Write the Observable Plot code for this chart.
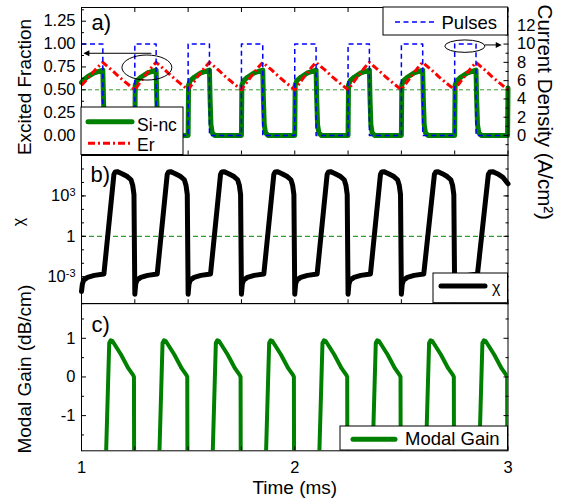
<!DOCTYPE html>
<html><head><meta charset="utf-8">
<script src="https://cdn.jsdelivr.net/npm/d3@7"></script>
<script src="https://cdn.jsdelivr.net/npm/@observablehq/plot@0.6"></script>
<style>
body{margin:0;background:#fff;}
#chart{position:relative;width:561px;height:499px;overflow:hidden;background:#fff;}
#chart svg{position:absolute;left:0;}
</style></head><body><div id="chart"></div>
<script>
// ---------- tick values ----------
const xTicks = [1, 1.25, 1.5, 1.75, 2, 2.25, 2.5, 2.75, 3];
const xLabels = [1, 2, 3];
const fracTicks = [0, 0.25, 0.5, 0.75, 1, 1.25];
const fracMinor = [-0.125, 0.125, 0.375, 0.625, 0.875, 1.125, 1.375];
const currentTicks = [0, 2, 4, 6, 8, 10, 12];
const currentMinor = [-1, 1, 3, 5, 7, 9, 11, 13];
const chiLabelExp = [-3, 0, 3];
const chiDecades = [-5, -4, -3, -2, -1, 0, 1, 2, 3, 4, 5, 6];
const gainTicks = [-1, 0, 1];
const gainMinor = [-1.5, -0.5, 0.5, 1.5];

// ---------- series: [time (ms), value] ----------
// current pulses (A/cm^2)
const pulses = [
  [1.00,10],[1.10,10],[1.10,0],[1.25,0],[1.25,10],[1.35,10],[1.35,0],[1.50,0],[1.50,10],[1.60,10],[1.60,0],
  [1.75,0],[1.75,10],[1.85,10],[1.85,0],[2.00,0],[2.00,10],[2.10,10],[2.10,0],[2.25,0],[2.25,10],[2.35,10],[2.35,0],
  [2.50,0],[2.50,10],[2.60,10],[2.60,0],[2.75,0],[2.75,10],[2.85,10],[2.85,0],[3.00,0]
];
// Si-nc excited fraction
const siNc = [
  [1.000,0.58],[1.010,0.61],[1.030,0.645],[1.060,0.685],[1.100,0.715],[1.103,0.40],[1.107,0.12],[1.113,0.03],[1.125,0.00],
  [1.250,0.00],[1.252,0.55],[1.260,0.60],[1.280,0.64],[1.310,0.685],[1.350,0.715],[1.353,0.40],[1.357,0.12],[1.363,0.03],[1.375,0.00],
  [1.500,0.00],[1.502,0.55],[1.510,0.60],[1.530,0.64],[1.560,0.685],[1.600,0.715],[1.603,0.40],[1.607,0.12],[1.613,0.03],[1.625,0.00],
  [1.750,0.00],[1.752,0.55],[1.760,0.60],[1.780,0.64],[1.810,0.685],[1.850,0.715],[1.853,0.40],[1.857,0.12],[1.863,0.03],[1.875,0.00],
  [2.000,0.00],[2.002,0.55],[2.010,0.60],[2.030,0.64],[2.060,0.685],[2.100,0.715],[2.103,0.40],[2.107,0.12],[2.113,0.03],[2.125,0.00],
  [2.250,0.00],[2.252,0.55],[2.260,0.60],[2.280,0.64],[2.310,0.685],[2.350,0.715],[2.353,0.40],[2.357,0.12],[2.363,0.03],[2.375,0.00],
  [2.500,0.00],[2.502,0.55],[2.510,0.60],[2.530,0.64],[2.560,0.685],[2.600,0.715],[2.603,0.40],[2.607,0.12],[2.613,0.03],[2.625,0.00],
  [2.750,0.00],[2.752,0.55],[2.760,0.60],[2.780,0.64],[2.810,0.685],[2.850,0.715],[2.853,0.40],[2.857,0.12],[2.863,0.03],[2.875,0.00],
  [2.998,0.00],[3.000,0.52]
];
// Er excited fraction
const er = [
  [1.000,0.55],[1.020,0.60],[1.050,0.68],[1.075,0.745],[1.100,0.80],[1.140,0.72],[1.175,0.645],[1.210,0.575],[1.250,0.50],
  [1.270,0.565],[1.300,0.66],[1.325,0.735],[1.350,0.80],[1.390,0.72],[1.425,0.645],[1.460,0.575],[1.500,0.50],
  [1.520,0.565],[1.550,0.66],[1.575,0.735],[1.600,0.80],[1.640,0.72],[1.675,0.645],[1.710,0.575],[1.750,0.50],
  [1.770,0.565],[1.800,0.66],[1.825,0.735],[1.850,0.80],[1.890,0.72],[1.925,0.645],[1.960,0.575],[2.000,0.50],
  [2.020,0.565],[2.050,0.66],[2.075,0.735],[2.100,0.80],[2.140,0.72],[2.175,0.645],[2.210,0.575],[2.250,0.50],
  [2.270,0.565],[2.300,0.66],[2.325,0.735],[2.350,0.80],[2.390,0.72],[2.425,0.645],[2.460,0.575],[2.500,0.50],
  [2.520,0.565],[2.550,0.66],[2.575,0.735],[2.600,0.80],[2.640,0.72],[2.675,0.645],[2.710,0.575],[2.750,0.50],
  [2.770,0.565],[2.800,0.66],[2.825,0.735],[2.850,0.80],[2.890,0.72],[2.925,0.645],[2.960,0.575],[3.000,0.50]
];
// chi, stored as log10(chi)
const chiLog10 = [
  [1.000,-4.1],[1.004,-3.55],[1.010,-3.25],[1.028,-3.05],[1.060,-2.9],[1.105,-2.8],[1.152,4.6],[1.158,4.78],[1.168,4.8],[1.190,4.65],[1.215,4.44],[1.232,4.2],[1.240,3.8],[1.246,3.1],
  [1.250,-4.3],[1.254,-3.55],[1.260,-3.25],[1.278,-3.05],[1.310,-2.9],[1.355,-2.8],[1.402,4.6],[1.408,4.78],[1.418,4.8],[1.440,4.65],[1.465,4.44],[1.482,4.2],[1.490,3.8],[1.496,3.1],
  [1.500,-4.3],[1.504,-3.55],[1.510,-3.25],[1.528,-3.05],[1.560,-2.9],[1.605,-2.8],[1.652,4.6],[1.658,4.78],[1.668,4.8],[1.690,4.65],[1.715,4.44],[1.732,4.2],[1.740,3.8],[1.746,3.1],
  [1.750,-4.3],[1.754,-3.55],[1.760,-3.25],[1.778,-3.05],[1.810,-2.9],[1.855,-2.8],[1.902,4.6],[1.908,4.78],[1.918,4.8],[1.940,4.65],[1.965,4.44],[1.982,4.2],[1.990,3.8],[1.996,3.1],
  [2.000,-4.3],[2.004,-3.55],[2.010,-3.25],[2.028,-3.05],[2.060,-2.9],[2.105,-2.8],[2.152,4.6],[2.158,4.78],[2.168,4.8],[2.190,4.65],[2.215,4.44],[2.232,4.2],[2.240,3.8],[2.246,3.1],
  [2.250,-4.3],[2.254,-3.55],[2.260,-3.25],[2.278,-3.05],[2.310,-2.9],[2.355,-2.8],[2.402,4.6],[2.408,4.78],[2.418,4.8],[2.440,4.65],[2.465,4.44],[2.482,4.2],[2.490,3.8],[2.496,3.1],
  [2.500,-4.3],[2.504,-3.55],[2.510,-3.25],[2.528,-3.05],[2.560,-2.9],[2.605,-2.8],[2.655,4.6],[2.662,4.78],[2.672,4.8],[2.692,4.65],[2.715,4.44],[2.732,4.2],[2.740,3.8],[2.746,3.1],
  [2.750,-4.3],[2.754,-3.55],[2.760,-3.25],[2.778,-3.05],[2.810,-2.9],[2.857,-2.8],[2.908,4.6],[2.915,4.78],[2.928,4.8],[2.950,4.65],[2.975,4.4],[3.000,3.9]
];
// modal gain (dB/cm); -3 lies below the visible range
const gain = [
  [1.000,-3],[1.110,-3],[1.130,0.88],[1.137,0.95],[1.145,0.93],[1.185,0.58],[1.220,0.22],[1.243,0.04],[1.246,0.0],[1.247,-3],
  [1.360,-3],[1.380,0.88],[1.387,0.95],[1.395,0.93],[1.435,0.58],[1.470,0.22],[1.493,0.04],[1.496,0.0],[1.497,-3],
  [1.610,-3],[1.630,0.88],[1.637,0.95],[1.645,0.93],[1.685,0.58],[1.720,0.22],[1.743,0.04],[1.746,0.0],[1.747,-3],
  [1.860,-3],[1.880,0.88],[1.887,0.95],[1.895,0.93],[1.935,0.58],[1.970,0.22],[1.993,0.04],[1.996,0.0],[1.997,-3],
  [2.110,-3],[2.130,0.88],[2.137,0.95],[2.145,0.93],[2.185,0.58],[2.220,0.22],[2.243,0.04],[2.246,0.0],[2.247,-3],
  [2.360,-3],[2.380,0.88],[2.387,0.95],[2.395,0.93],[2.435,0.58],[2.470,0.22],[2.493,0.04],[2.496,0.0],[2.497,-3],
  [2.610,-3],[2.630,0.88],[2.637,0.95],[2.645,0.93],[2.685,0.58],[2.720,0.22],[2.743,0.04],[2.746,0.0],[2.747,-3],
  [2.860,-3],[2.880,0.88],[2.887,0.95],[2.895,0.93],[2.935,0.58],[2.970,0.22],[2.993,0.04],[2.996,0.0],[2.997,-3]
];
// annotation callouts in panel a (data coordinates)
const callouts = [
  {cx: 1.309, cy: 0.738, rx: 0.117, ry: 0.137, lineY: 0.894, lineFrom: 1.33, lineTo: 1.011},
  {cx: 2.800, cy: 0.972, rx: 0.094, ry: 0.068, lineY: 0.985, lineFrom: 2.894, lineTo: 2.973}
];

// ---------- rendering ----------
const FONT = '"Liberation Sans", Arial, Helvetica, sans-serif';
const GREEN = "#008000", DASHGREEN = "#339933";
const T = d => d[0], V = d => d[1];

function base(h, mt, mb, y, marks) {
  return Plot.plot({
    width: 561, height: h, marginLeft: 81, marginRight: 53.5, marginTop: mt, marginBottom: mb,
    x: {domain: [1, 3]}, y,
    style: {fontFamily: FONT, fontSize: "16.5px", color: "black", background: "transparent", overflow: "visible"},
    marks
  });
}
const tickAxisX = (a, len = 4) => Plot.axisX(xTicks, {anchor: a, tickSize: -len, fill: "none", label: null, tickFormat: () => ""});
const tickAxisY = (vals, a, len) => Plot.axisY(vals, {anchor: a, tickSize: -len, fill: "none", label: null, tickFormat: () => ""});
const title = (txt, o) => Plot.text([txt], {fontSize: 19, textAnchor: "middle", lineAnchor: "middle", ...o});
const panelLabel = (txt, dx, dy) => Plot.text([txt], {frameAnchor: "top-left", dx, dy, fontSize: 22, textAnchor: "start", lineAnchor: "top"});

function calloutMark(c) {
  return (index, {x, y}) => {
    const g = d3.create("svg:g").attr("stroke", "black").attr("stroke-width", 1).attr("fill", "none");
    const cx = x(c.cx), cy = y(c.cy);
    g.append("ellipse").attr("cx", cx).attr("cy", cy)
      .attr("rx", Math.abs(x(c.cx + c.rx) - cx)).attr("ry", Math.abs(y(c.cy + c.ry) - cy));
    const x1 = x(c.lineFrom), x2 = x(c.lineTo), yy = y(c.lineY);
    const dir = Math.sign(x2 - x1);
    g.append("line").attr("x1", x1).attr("y1", yy).attr("x2", x2 - dir * 5).attr("y2", yy);
    g.append("path").attr("d", `M${x2},${yy}L${x2 - dir * 6},${yy - 3}L${x2 - dir * 6},${yy + 3}Z`)
      .attr("fill", "black").attr("stroke", "none");
    return g.node();
  };
}

// Panel a
const pa = base(155, 7, 0.5, {domain: [-0.213, 1.40]}, [
  Plot.ruleY([0.5], {stroke: DASHGREEN, strokeWidth: 1, strokeDasharray: "4,3"}),
  Plot.line(siNc, {x: T, y: V, stroke: GREEN, strokeWidth: 5}),
  Plot.line(er, {x: T, y: V, stroke: "#ff0000", strokeWidth: 3, strokeDasharray: "7,3,2,3", strokeLinecap: "butt"}),
  Plot.line(pulses, {x: T, y: d => d[1] / 10, stroke: "#0000ff", strokeWidth: 1.5, strokeDasharray: "5,3.5", strokeLinecap: "butt"}),
  ...callouts.map(calloutMark),
  tickAxisX("top"), tickAxisX("bottom"),
  Plot.axisY(fracTicks, {anchor: "left", tickSize: 0, tickPadding: 6, tickFormat: d3.format(".2f"), label: null}),
  tickAxisY(fracTicks, "left", 5), tickAxisY(fracMinor, "left", 3),
  Plot.axisY(currentTicks.map(v => v / 10), {anchor: "right", tickSize: 0, tickPadding: 9, tickFormat: d => String(Math.round(d * 10)), label: null}),
  tickAxisY(currentTicks.map(v => v / 10), "right", 5), tickAxisY(currentMinor.map(v => v / 10), "right", 3),
  Plot.frame({stroke: "black"}),
  panelLabel("a)", 10, 6.8),
  title("Excited Fraction", {frameAnchor: "left", dx: -56.5, dy: 5.75, rotate: -90}),
  title("Current Density (A/cm²)", {frameAnchor: "right", dx: 37, dy: 31, rotate: 90, fontSize: 20.5})
]);

// Panel b
const pb = base(148.2, 0, 0, {type: "log", domain: [1e-5, 1e6]}, [
  Plot.ruleY([1], {stroke: DASHGREEN, strokeWidth: 1.2, strokeDasharray: "5,3"}),
  Plot.line(chiLog10, {x: T, y: d => Math.pow(10, d[1]), stroke: "black", strokeWidth: 5}),
  tickAxisX("bottom"),
  Plot.axisY(chiLabelExp.map(e => Math.pow(10, e)), {anchor: "left", tickSize: 0, tickPadding: 6, label: null,
    tickFormat: d => { const e = Math.round(Math.log10(d)); return e === 0 ? "1" : "10^" + e; }}),
  tickAxisY(chiLabelExp.map(e => Math.pow(10, e)), "left", 5), tickAxisY(chiDecades.map(e => Math.pow(10, e)), "left", 3),
  tickAxisY(chiLabelExp.map(e => Math.pow(10, e)), "right", 5), tickAxisY(chiDecades.map(e => Math.pow(10, e)), "right", 3),
  Plot.frame({stroke: "black"}),
  panelLabel("b)", 9, 10.9),
  title("χ", {frameAnchor: "left", dx: -63, dy: -7.6, rotate: -90, fontSize: 16})
]);

// Panel c
const pc = base(196.3, 0, 49, {domain: [-1.91, 1.9]}, [
  Plot.line(gain, {x: T, y: V, stroke: GREEN, strokeWidth: 4, clip: true}),
  tickAxisX("bottom"),
  Plot.axisX(xLabels, {anchor: "bottom", tickSize: 0, tickPadding: 10, label: null, tickFormat: d => String(d)}),
  Plot.axisY(gainTicks, {anchor: "left", tickSize: 0, tickPadding: 6, label: null, tickFormat: d => String(d)}),
  tickAxisY(gainTicks, "left", 5), tickAxisY(gainMinor, "left", 3),
  tickAxisY(gainTicks, "right", 5), tickAxisY(gainMinor, "right", 3),
  Plot.frame({stroke: "black"}),
  panelLabel("c)", 10, 12.7),
  title("Modal Gain (dB/cm)", {frameAnchor: "left", dx: -56.5, dy: -8, rotate: -90}),
  title("Time (ms)", {frameAnchor: "bottom", dy: 37})
]);

// superscripts on chi tick labels
d3.select(pb).selectAll("text").each(function () {
  const m = /^10\^(.+)$/.exec(this.textContent);
  if (m) {
    const s = d3.select(this);
    s.text("10");
    s.append("tspan").attr("dy", "-0.5em").attr("font-size", "11px").text(m[1]);
  }
});

const chart = document.getElementById("chart");
[[pa, 0], [pb, 154.5], [pc, 302.7]].forEach(([svg, top]) => {
  svg.style.position = "absolute";
  svg.style.top = top + "px";
  svg.style.left = "0px";
  chart.appendChild(svg);
});

// legends
const ov = d3.create("svg").attr("width", 561).attr("height", 499)
  .style("position", "absolute").style("left", "0px").style("top", "0px")
  .attr("font-family", FONT).attr("font-size", 18.5);
function box(x, y, w, h) {
  ov.append("rect").attr("x", x).attr("y", y).attr("width", w).attr("height", h)
    .attr("fill", "white").attr("stroke", "black").attr("stroke-width", 1);
}
function swatch(x1, x2, y, stroke, width, dash, cap) {
  ov.append("line").attr("x1", x1).attr("x2", x2).attr("y1", y).attr("y2", y)
    .attr("stroke", stroke).attr("stroke-width", width)
    .attr("stroke-dasharray", dash || null).attr("stroke-linecap", cap || "round");
}
function label(x, y, txt, size) {
  const t = ov.append("text").attr("x", x).attr("y", y).text(txt);
  if (size) t.attr("font-size", size);
}

box(81, 107, 102, 47.5);
swatch(88, 132, 121.7, GREEN, 5);
label(137, 130.5, "Si-nc", 17.5);
swatch(88, 132, 143.3, "#ff0000", 3, "7,3,2,3", "butt");
label(137, 150.5, "Er", 17.5);

box(383, 7, 124.5, 28);
swatch(395, 435, 22, "#0000ff", 1.5, "5,3.5", "butt");
label(441.5, 28.5, "Pulses");

box(433, 273, 74.5, 29.7);
swatch(441, 485, 286, "black", 5);
label(492, 293, "χ", 16);

box(340, 426, 167.5, 24);
swatch(353, 395, 439.3, GREEN, 5);
label(405, 445, "Modal Gain");

chart.appendChild(ov.node());
</script></body></html>
